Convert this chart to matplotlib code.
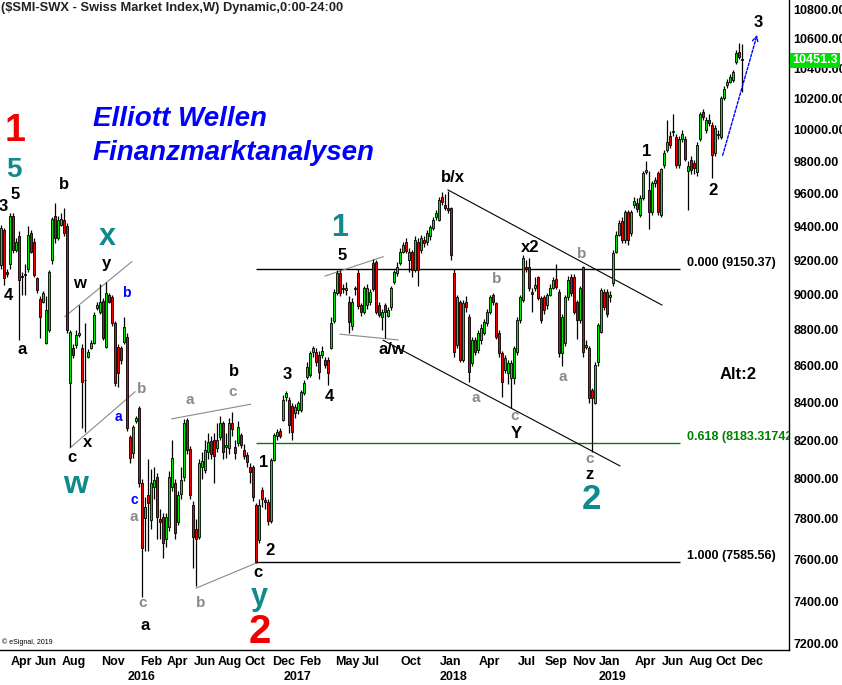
import numpy as np
import pandas as pd
import matplotlib
matplotlib.use('Agg')
import matplotlib.pyplot as plt
from matplotlib.ticker import FixedLocator, FormatStrFormatter, NullLocator

plt.rcParams['font.family'] = ['Liberation Sans', 'DejaVu Sans']

# weekly bars of the SMI, first bar = week of 16 Mar 2015
START = '2015-03-16'

OPEN = [
    # 2015
    9170, 9380, 9130, 9180, 9465, 9260, 9345, 9110, 9115, 9150,
    9360, 9305, 9095, 8975, 8960, 8726, 8799, 9200, 9465, 9330,
    9410, 9439, 9400, 8506, 8698, 8715, 8771, 8698, 8522, 8649,
    8698, 8726, 8923, 8900, 8965, 8704, 9000, 8986, 8838, 8704,
    8700, 8732, 8760, 8218, 8133,
    # 2016
    8300, 8372, 7980, 7803, 7918, 7793, 7960, 8011, 7800, 7808,
    7700, 7759, 7960, 7980, 7785, 7925, 8011, 8307, 8154, 7868,
    7750, 7710, 8060, 8046, 8140, 8195, 8200, 8160, 8218, 8290,
    8165, 8160, 8290, 8165, 8187, 8230, 8150, 8124, 8060, 8060,
    7868, 7695,
    7944, 7895, 7883, 7788, 8098, 8220, 8250, 8307, 8430, 8414,
    8380, 8345, 8360, 8361, 8452, 8539, 8550, 8676, 8676, 8660,
    8660, 8632, 8632,
    # 2017
    8700, 8850, 9010, 9126, 9040, 9025, 8958, 8820, 9030, 9126,
    8940, 8900, 8940, 8960, 9183, 9190, 8940, 8870, 8940, 8880,
    8926, 9073, 9126, 9183, 9250,
    9310, 9200, 9245, 9143, 9310, 9260, 9319, 9305, 9340, 9390,
    9455, 9439, 9580, 9530, 9512,
    # 2018
    9510, 9126, 8715, 8958, 8632, 8958, 8873, 8616, 8743, 8687,
    8740, 8782, 8838, 8900, 8998, 8950, 8782, 8670, 8577, 8560,
    8533, 8533, 8676, 8855, 8969,
    9160, 9160, 9015, 9040, 9100, 8980, 8986, 8940, 8998, 9040,
    9090, 9015, 8670, 8727, 8986, 9100, 9100, 8958, 8855, 9160,
    8704, 8698, 8468, 8398, 8620, 8788, 9015, 9015, 8985, 9066,
    # 2019
    9250, 9350, 9430, 9319, 9490, 9360, 9530, 9545, 9470, 9570,
    9735, 9622, 9490, 9665, 9725, 9470, 9777, 9870, 9960, 9985,
    9950, 9777, 9940, 9940, 9740, 9808, 9790, 9730, 9940, 10110,
    10000, 10060, 10030, 9850, 9965, 9950, 10204, 10290, 10310, 10322,
    10442, 10510, 10460,
]

HIGH = [
    9410, 9390, 9150, 9480, 9480, 9330, 9370, 9130, 9180, 9400,
    9380, 9330, 9100, 8990, 9020, 8990, 9140, 9460, 9540, 9465,
    9480, 9510, 9420, 8800, 8720, 8800, 8940, 8720, 8838, 8690,
    8740, 8900, 8960, 9060, 8980, 9070, 9010, 9000, 8850, 8720,
    8710, 8873, 8780, 8230, 8280,
    8330, 8380, 8000, 7910, 8100, 8050, 8060, 8030, 7850, 7830,
    7830, 8040, 8202, 8000, 7940, 8060, 8310, 8318, 8170, 7890,
    7800, 8100, 8140, 8200, 8240, 8220, 8240, 8290, 8330, 8300,
    8240, 8320, 8350, 8200, 8300, 8240, 8180, 8140, 8080, 8070,
    7880, 7900,
    7960, 7910, 7900, 8110, 8240, 8260, 8265, 8441, 8460, 8430,
    8400, 8390, 8410, 8470, 8520, 8620, 8680, 8710, 8700, 8680,
    8710, 8650, 8650,
    8870, 9030, 9140, 9140, 9060, 9070, 8990, 8980, 9050, 9150,
    8950, 9050, 9060, 9030, 9207, 9200, 8960, 8920, 8950, 8930,
    9050, 9140, 9190, 9270, 9310,
    9330, 9270, 9260, 9340, 9330, 9350, 9340, 9380, 9410, 9460,
    9500, 9580, 9610, 9600, 9616,
    9520, 9150, 9000, 8970, 8970, 8990, 8890, 8760, 8760, 8800,
    8830, 8860, 8920, 9000, 9010, 8960, 8800, 8680, 8660, 8630,
    8630, 8710, 8870, 9000, 9230,
    9200, 9210, 9040, 9100, 9110, 8990, 9000, 9010, 9060, 9100,
    9180, 9030, 8890, 9000, 9110, 9120, 9120, 8970, 9050, 9165,
    8740, 8710, 8480, 8620, 8840, 9040, 9030, 9030, 9020, 9260,
    9370, 9440, 9460, 9500, 9500, 9500, 9580, 9570, 9590, 9740,
    9800, 9740, 9680, 9700, 9740, 9760, 9870, 10061, 9990, 10100,
    9970, 9960, 10000, 9960, 9800, 9830, 9810, 9920, 10110, 10130,
    10080, 10100, 10050, 10030, 10000, 10220, 10280, 10330, 10360, 10390,
    10520, 10570, 10560,
]

LOW = [
    9150, 9055, 9100, 9150, 9240, 9250, 8743, 9000, 9000, 9130,
    9240, 9100, 9010, 8755, 8950, 8720, 8790, 9180, 9300, 9320,
    9400, 9340, 8780, 8165, 8640, 8700, 8760, 8265, 8244, 8640,
    8690, 8720, 8910, 8890, 8740, 8700, 8950, 8820, 8490, 8484,
    8610, 8720, 8250, 8080, 8110,
    8290, 7960, 7420, 7640, 7640, 7750, 7900, 7700, 7700, 7607,
    7660, 7740, 7940, 7700, 7770, 7900, 7990, 8130, 7900, 7560,
    7470, 7700, 8000, 8030, 8100, 8100, 7980, 8140, 8200, 8100,
    8110, 8130, 8220, 8100, 8170, 8160, 8100, 8060, 7980, 7890,
    7580, 7680,
    7860, 7850, 7770, 7780, 8090, 8200, 8210, 8300, 8410, 8240,
    8200, 8320, 8340, 8350, 8440, 8530, 8540, 8650, 8600, 8530,
    8640, 8590, 8495,
    8690, 8840, 9000, 8990, 9010, 9000, 8780, 8800, 9000, 8920,
    8880, 8890, 8920, 8940, 9020, 8890, 8870, 8800, 8755, 8870,
    8910, 9060, 9110, 9170, 9240,
    9240, 9130, 9100, 9130, 9050, 9240, 9280, 9290, 9320, 9380,
    9440, 9430, 9530, 9500, 9480,
    9200, 8650, 8700, 8620, 8620, 8900, 8511, 8600, 8660, 8670,
    8720, 8770, 8820, 8890, 8940, 8750, 8650, 8430, 8560, 8500,
    8372, 8500, 8660, 8840, 8960,
    9130, 9020, 8900, 9020, 8970, 8840, 8890, 8920, 8990, 9030,
    9030, 8650, 8600, 8710, 8970, 8990, 8890, 8750, 8840, 8650,
    8690, 8400, 8139, 8390, 8600, 8780, 8910, 8870, 8960, 9050,
    9240, 9340, 9300, 9300, 9290, 9340, 9510, 9490, 9460, 9560,
    9720, 9385, 9470, 9640, 9470, 9460, 9760, 9860, 9880, 9960,
    9760, 9760, 9920, 9800, 9500, 9720, 9720, 9710, 9930, 10060,
    9980, 10020, 9695, 9830, 9940, 9940, 10190, 10270, 10300, 10310,
    10430, 10460, 10243,
]

CLOSE = [
    9390, 9095, 9120, 9465, 9260, 9305, 9084, 9100, 9120, 9350,
    9250, 9115, 9026, 8873, 9008, 8912, 9130, 9445, 9330, 9439,
    9445, 9360, 8799, 8788, 8660, 8771, 8782, 8511, 8520, 8676,
    8726, 8884, 8940, 8958, 8755, 9008, 8958, 8838, 8506, 8561,
    8632, 8816, 8265, 8107, 8270,
    8318, 7980, 7656, 7858, 7878, 7980, 7995, 7808, 7785, 7680,
    7808, 8011, 8107, 7730, 7918, 7995, 8290, 8149, 7920, 7710,
    7700, 8083, 8090, 8149, 8190, 8130, 8120, 8200, 8290, 8140,
    8175, 8290, 8260, 8135, 8270, 8175, 8120, 8088, 8036, 7910,
    7587, 7868,
    7900, 7885, 7788, 8098, 8230, 8244, 8225, 8414, 8450, 8280,
    8245, 8377, 8398, 8457, 8506, 8594, 8670, 8698, 8621, 8566,
    8680, 8605, 8561,
    8840, 9015, 9126, 9010, 9030, 9040, 8845, 8958, 9035, 8935,
    8900, 9037, 9040, 9015, 9030, 8900, 8884, 8900, 8900, 8912,
    9037, 9130, 9160, 9250, 9290,
    9255, 9250, 9143, 9319, 9143, 9330, 9300, 9360, 9395, 9439,
    9480, 9560, 9550, 9510, 9500,
    9230, 8676, 8986, 8632, 8950, 8930, 8566, 8743, 8676, 8782,
    8810, 8844, 8900, 8986, 8958, 8760, 8670, 8511, 8643, 8616,
    8616, 8698, 8855, 8986, 9210,
    9150, 9037, 9005, 9055, 8980, 8855, 8912, 8998, 9040, 9084,
    9045, 8670, 8873, 8986, 9084, 9010, 8900, 8855, 9037, 8676,
    8715, 8425, 8425, 8605, 8827, 9026, 8930, 8890, 9000, 9240,
    9350, 9420, 9319, 9490, 9319, 9490, 9555, 9505, 9570, 9725,
    9745, 9490, 9665, 9685, 9490, 9750, 9850, 9920, 9900, 9990,
    9777, 9940, 9975, 9815, 9770, 9745, 9760, 9900, 10100, 10080,
    10061, 10045, 9840, 10010, 9975, 10204, 10262, 10310, 10340, 10375,
    10502, 10475, 10451.3,
]

Y_TICKS = list(range(7200, 10801, 200))

MONTH_LABELS = ['2015-04', '2015-06', '2015-08', '2015-11',
                '2016-02', '2016-04', '2016-06', '2016-08', '2016-10', '2016-12',
                '2017-02', '2017-05', '2017-07', '2017-10',
                '2018-01', '2018-04', '2018-07', '2018-09', '2018-11',
                '2019-01', '2019-04', '2019-06', '2019-08', '2019-10', '2019-12']
YEAR_LABELS = ['2016', '2017', '2018', '2019']

# fibonacci retracement of the 2016 low -> 2018 high
FIB_LEVELS = [9150.37, 8183.31742, 7585.56]
FIB_RATIOS = ['0.000', '0.618', '1.000']
FIB_COLORS = ['black', '#008000', 'black']

GREEN = '#00e600'
RED = '#f00000'
TEAL = '#108a8a'
GREY = '#8a8a8a'
BLUE = '#0000ff'

# (text, bar, price, colour, size)
WAVE_LABELS = [
    ('1', 4.7, 9990, RED, 27), ('5', 4.3, 9745, TEAL, 20),
    ('x', 35.3, 9337, TEAL, 22), ('w', 24.7, 7970, TEAL, 23),
    ('1', 113, 9390, TEAL, 22), ('2', 196.7, 7895, TEAL, 25),
    ('y', 86, 7420, TEAL, 22), ('2', 86.3, 7255, RED, 29),
    ('3', 0.7, 9518, 'black', 12), ('5', 4.7, 9591, 'black', 12),
    ('b', 21, 9658, 'black', 12), ('4', 2.3, 8992, 'black', 12),
    ('a', 7, 8687, 'black', 12), ('w', 26.3, 9066, 'black', 12),
    ('y', 35.3, 9183, 'black', 12), ('c', 23.7, 8108, 'black', 12),
    ('x', 29, 8187, 'black', 12), ('b', 77.7, 8566, 'black', 12),
    ('a', 48, 7287, 'black', 12), ('c', 85.7, 7535, 'black', 12),
    ('1', 87.7, 8082, 'black', 12), ('2', 89.7, 7641, 'black', 12),
    ('3', 95.3, 8550, 'black', 12), ('4', 109.3, 8435, 'black', 12),
    ('5', 113.7, 9230, 'black', 12), ('a/w', 130.3, 8687, 'black', 12),
    ('b/x', 150.7, 9701, 'black', 12), ('x2', 176.3, 9272, 'black', 12),
    ('Y', 171.7, 8234, 'black', 12), ('z', 196.3, 8025, 'black', 12),
    ('1', 215.3, 9864, 'black', 12), ('2', 237.3, 9616, 'black', 12),
    ('3', 252.3, 10711, 'black', 12), ('Alt:2', 245.7, 8550, 'black', 12),
    ('b', 41.7, 9009, BLUE, 10), ('a', 39, 8323, BLUE, 10), ('c', 44.3, 7893, BLUE, 10),
    ('b', 47, 8473, GREY, 11), ('a', 44.3, 7808, GREY, 11), ('c', 47.3, 7391, GREY, 11),
    ('a', 63, 8414, GREY, 11), ('c', 77.3, 8457, GREY, 11), ('b', 66.7, 7391, GREY, 11),
    ('b', 165.3, 9090, GREY, 11), ('a', 158.3, 8425, GREY, 11), ('c', 171.3, 8329, GREY, 11),
    ('b', 193.7, 9237, GREY, 11), ('a', 187.3, 8539, GREY, 11), ('c', 196.3, 8100, GREY, 11),
]

# trend lines: (bar0, price0, bar1, price1, colour)
TREND_LINES = [
    (21.3, 8874, 43.6, 9191, GREY),
    (23.0, 8160, 44.7, 8458, GREY),
    (56.9, 8313, 83.2, 8391, GREY),
    (65.0, 7461, 85.3, 7583, GREY),
    (108.0, 9107, 127.4, 9220, GREY),
    (113.0, 8775, 132.4, 8743, GREY),
    (127.4, 8741, 206.3, 8067, 'black'),
    (149.0, 9622, 220.3, 8940, 'black'),
]


def draw_chart():
    dates = pd.date_range(START, periods=len(CLOSE), freq='7D')
    x = np.arange(len(CLOSE))
    o = np.array(OPEN, float)
    h = np.array(HIGH, float)
    l = np.array(LOW, float)
    c = np.array(CLOSE, float)

    fig = plt.figure(figsize=(8.42, 6.85), dpi=100)
    ax = fig.add_axes([0, 35 / 685, 789 / 842, 650 / 685])

    # candles
    colors = np.where(c >= o, GREEN, RED)
    ax.vlines(x, l, h, color='black', linewidth=0.9, zorder=2)
    ax.bar(x, np.abs(c - o), bottom=np.minimum(o, c), width=0.82,
           color=colors, edgecolor='black', linewidth=0.6, zorder=3)

    ax.set_yscale('log')
    ax.set_ylim(7172, 10863)
    ax.set_xlim(-0.33, 262.67)

    # fibonacci lines
    for lev, ratio, col in zip(FIB_LEVELS, FIB_RATIOS, FIB_COLORS):
        ax.hlines(lev, 85, 226.3, color=col, linewidth=1, zorder=1)
        ax.text(228.7, lev, '%s (%s)' % (ratio, lev), color=col, fontsize=9,
                fontweight='bold', ha='left', va='bottom', clip_on=True)

    for b0, p0, b1, p1, col in TREND_LINES:
        ax.plot([b0, b1], [p0, p1], color=col, linewidth=0.8, zorder=1)

    for txt, b, p, col, size in WAVE_LABELS:
        ax.text(b, p, txt, color=col, fontsize=size, fontweight='bold',
                ha='center', va='center', zorder=5)

    ax.annotate('', xy=(252.3, 10643), xytext=(240.3, 9820),
                arrowprops=dict(arrowstyle='->', color=BLUE, lw=1,
                                linestyle=(0, (2, 1.2))))

    # right price axis
    ax.yaxis.tick_right()
    ax.yaxis.set_major_locator(FixedLocator(Y_TICKS))
    ax.yaxis.set_major_formatter(FormatStrFormatter('%.2f'))
    ax.yaxis.set_minor_locator(NullLocator())
    ax.tick_params(axis='y', length=0, pad=3, labelsize=9)
    for lab in ax.get_yticklabels():
        lab.set_fontweight('bold')
    ax.set_xticks([])

    for side in ['left', 'top']:
        ax.spines[side].set_visible(False)
    for side in ['right', 'bottom']:
        ax.spines[side].set_linewidth(1)

    # last price marker
    ax.text(1.004, c[-1], '%.1f' % c[-1], transform=ax.get_yaxis_transform(),
            color='white', fontsize=9, fontweight='bold', ha='left', va='center',
            bbox=dict(boxstyle='square,pad=0.15', fc='#00dd00', ec='none'),
            clip_on=False, zorder=10)

    # month / year labels
    xt = ax.get_xaxis_transform()
    for m in MONTH_LABELS:
        ts = pd.Timestamp(m + '-01')
        i = int(np.searchsorted(dates, ts))
        ax.text(i + 0.3, -12 / 650, ts.strftime('%b'), transform=xt, ha='left',
                va='center', fontsize=9, fontweight='bold', clip_on=False)
    for yr in YEAR_LABELS:
        i = int(np.searchsorted(dates, pd.Timestamp(yr + '-01-01')))
        ax.text(i + 0.3, -27 / 650, yr, transform=xt, ha='left', va='center',
                fontsize=9, fontweight='bold', clip_on=False)

    ax.text(0.002, 0.006, '\u00a9 eSignal, 2019', transform=ax.transAxes,
            fontsize=5, va='bottom', ha='left')

    fig.text(0.001, 1 - 8 / 685, '($SMI-SWX - Swiss Market Index,W) Dynamic,0:00-24:00',
             fontsize=9.3, fontweight='bold', color='#222222', ha='left', va='center')
    fig.text(93 / 842, 1 - 119 / 685, 'Elliott Wellen', fontsize=20, fontweight='bold',
             fontstyle='italic', color=BLUE, ha='left', va='center')
    fig.text(93 / 842, 1 - 153 / 685, 'Finanzmarktanalysen', fontsize=20, fontweight='bold',
             fontstyle='italic', color=BLUE, ha='left', va='center')

    fig.savefig('out.png', dpi=100)


if __name__ == "__main__":
    draw_chart()
